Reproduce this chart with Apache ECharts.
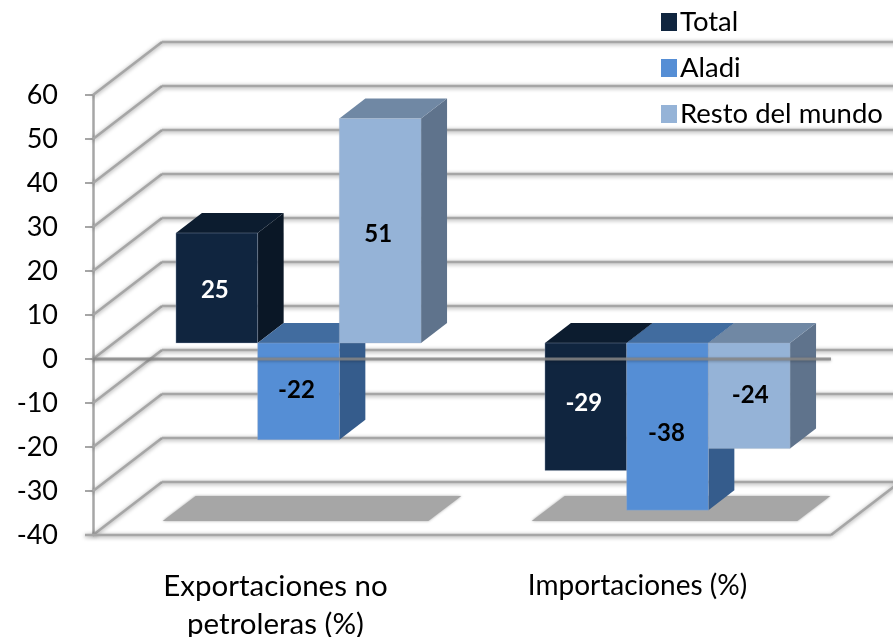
<!DOCTYPE html>
<html>
<head>
<meta charset="utf-8">
<title>Exportaciones e importaciones</title>
<script src="https://cdn.jsdelivr.net/npm/echarts@6/dist/echarts.min.js"></script>
<style>
html, body { margin: 0; padding: 0; background: #fff; }
#main { width: 893px; height: 637px; }
</style>
</head>
<body>
<div id="main"></div>
<script>
const categories = ['Exportaciones no\npetroleras (%)', 'Importaciones (%)'];
const seriesNames = ['Total', 'Aladi', 'Resto del mundo'];
const totalValues = [25, -29];
const aladiValues = [-22, -38];
const restoValues = [51, -24];
const yTicks = [-40, -30, -20, -10, 0, 10, 20, 30, 40, 50, 60];

// colores: frente, tapa, lado
const faceColors = ['#10253F', '#558ED5', '#95B3D7'];
const topColors = ['#0C1C2F', '#416C9F', '#7088A4'];
const sideColors = ['#0A1726', '#355C8C', '#5F738C'];
const labelColors = ['#fff', '#000', '#000'];
// las etiquetas del original no estan del todo centradas
const labelNudge = [[[-2, 2], [-2, -4]], [[-2, -1], [-1, 7]], [[-2, 3], [1, -1]]];

const font = 'Lato, sans-serif';
const wallDx = 69, wallDy = -53;   // fondo del grafico respecto al plano frontal
const planeDx = 21, planeDy = -16; // plano frontal de las barras
const barDx = 26, barDy = -20;     // profundidad de cada barra
const barRatio = 0.2214;

// los extremos de la banda, api.coord no pasa de los centros de categoria
function plotEnds(api, v) {
    const half = api.size([1, 0])[0] / 2;
    return [api.coord([0, v])[0] - half, api.coord([1, v])[0] + half, api.coord([0, v])[1]];
}

function wallsItem(params, api) {
    const v = api.value(0);
    const ends = plotEnds(api, v);
    const xa = ends[0], xb = ends[1], y = ends[2];
    const line = { stroke: '#a6a6a6', lineWidth: 2.5, shadowColor: 'rgba(0,0,0,0.4)', shadowBlur: 4, shadowOffsetY: 1 };
    const children = [
        { type: 'line', shape: { x1: xa, y1: y, x2: xa + wallDx, y2: y + wallDy }, style: line },
        { type: 'line', shape: { x1: xa + wallDx, y1: y + wallDy, x2: xb + wallDx, y2: y + wallDy }, style: line }
    ];
    if (v === yTicks[0]) {
        // suelo: borde derecho y linea frontal
        children.push({ type: 'line', shape: { x1: xb, y1: y, x2: xb + wallDx, y2: y + wallDy }, style: line });
        children.push({ type: 'line', shape: { x1: xa - 8, y1: y, x2: xb, y2: y }, style: line });
    }
    return { type: 'group', children: children };
}

function shadowItem(params, api) {
    const p = api.coord([api.value(0), yTicks[0]]);
    const w = api.size([1, 0])[0] * 0.72;
    const x = p[0] - w / 2, y = p[1];
    return {
        type: 'polygon',
        shape: { points: [
            [x + 18, y - 14], [x + 18 + w, y - 14],
            [x + 51 + w, y - 39], [x + 51, y - 39]
        ] },
        style: { fill: '#a6a6a6', shadowColor: '#a6a6a6', shadowBlur: 3 }
    };
}

function barItem(idx) {
    return function (params, api) {
        const cat = api.value(0), v = api.value(1);
        const bw = api.size([1, 0])[0] * barRatio;
        const hi = api.coord([cat, Math.max(v, 0)]);
        const lo = api.coord([cat, Math.min(v, 0)]);
        const x0 = hi[0] + planeDx + (idx - 1.5) * bw;
        const x1 = x0 + bw;
        const yt = hi[1] + planeDy, yb = lo[1] + planeDy;
        const nudge = labelNudge[idx][cat];
        return {
            type: 'group',
            children: [
                { type: 'polygon', shape: { points: [[x1, yt], [x1 + barDx, yt + barDy], [x1 + barDx, yb + barDy], [x1, yb]] }, style: { fill: sideColors[idx] } },
                { type: 'polygon', shape: { points: [[x0, yt], [x0 + barDx, yt + barDy], [x1 + barDx, yt + barDy], [x1, yt]] }, style: { fill: topColors[idx] } },
                { type: 'rect', shape: { x: x0, y: yt, width: bw, height: yb - yt }, style: { fill: faceColors[idx], stroke: 'rgba(160,175,195,0.35)', lineWidth: 1 } },
                { type: 'text', z2: 5, style: {
                    text: String(v), x: (x0 + x1) / 2 + nudge[0], y: (yt + yb) / 2 + nudge[1],
                    fill: labelColors[idx], font: '700 24px ' + font, align: 'center', verticalAlign: 'middle'
                } }
            ]
        };
    };
}

function zeroLineItem(params, api) {
    const ends = plotEnds(api, api.value(0));
    return {
        type: 'line',
        shape: { x1: ends[0], y1: ends[2], x2: ends[1], y2: ends[2] },
        style: { stroke: 'rgba(135,135,135,0.85)', lineWidth: 3, shadowColor: 'rgba(0,0,0,0.3)', shadowBlur: 3, shadowOffsetY: 1 }
    };
}

const valuesBySeries = [totalValues, aladiValues, restoValues];
const chart = echarts.init(document.getElementById('main'), null, { renderer: 'canvas' });

chart.setOption({
    animation: false,
    backgroundColor: '#fff',
    legend: {
        left: 656,
        top: 3,
        orient: 'vertical',
        icon: 'rect',
        itemWidth: 16,
        itemHeight: 18,
        itemGap: 18,
        selectedMode: false,
        data: seriesNames,
        textStyle: { color: '#000', fontFamily: font, fontSize: 27.5, padding: [0, 0, 4, -2] }
    },
    grid: { left: 93, right: 62, top: 95, bottom: 102, outerBoundsMode: 'none' },
    xAxis: {
        type: 'category',
        data: categories,
        axisLine: { onZero: false, show: false },
        axisTick: { show: false },
        axisLabel: {
            margin: 32,
            interval: 0,
            formatter: function (value, i) {
                const tag = i === 0 ? 'a' : 'b';
                return value.split('\n').map(function (s) { return '{' + tag + '|' + s + '}'; }).join('\n');
            },
            rich: {
                a: { color: '#000', fontFamily: font, fontSize: 29.5, lineHeight: 38, padding: [0, 4, 0, 0] },
                b: { color: '#000', fontFamily: font, fontSize: 28, lineHeight: 38, padding: [0, 18, 0, 0] }
            }
        }
    },
    yAxis: {
        type: 'value',
        min: yTicks[0],
        max: yTicks[yTicks.length - 1],
        interval: 10,
        splitLine: { show: false },
        axisLine: { show: true, lineStyle: { color: '#a6a6a6', width: 2.5 } },
        axisTick: { show: true, length: 8, lineStyle: { color: '#a6a6a6', width: 2 } },
        axisLabel: { color: '#000', fontFamily: font, fontSize: 27, margin: 35 }
    },
    series: [
        { type: 'custom', name: 'walls', silent: true, z: 1, data: yTicks.map(function (v) { return [v]; }), encode: { y: 0 }, renderItem: wallsItem },
        { type: 'custom', name: 'shadow', silent: true, z: 1, data: categories.map(function (c, i) { return [i]; }), encode: { x: 0 }, renderItem: shadowItem }
    ].concat(seriesNames.map(function (name, idx) {
        return {
            type: 'custom',
            name: name,
            z: 2 + idx,
            itemStyle: { color: faceColors[idx] },
            data: valuesBySeries[idx].map(function (v, i) { return [i, v]; }),
            encode: { x: 0, y: 1 },
            renderItem: barItem(idx)
        };
    })).concat([
        { type: 'custom', name: 'zero', silent: true, z: 8, data: [[0]], encode: { y: 0 }, renderItem: zeroLineItem }
    ])
});
</script>
</body>
</html>
